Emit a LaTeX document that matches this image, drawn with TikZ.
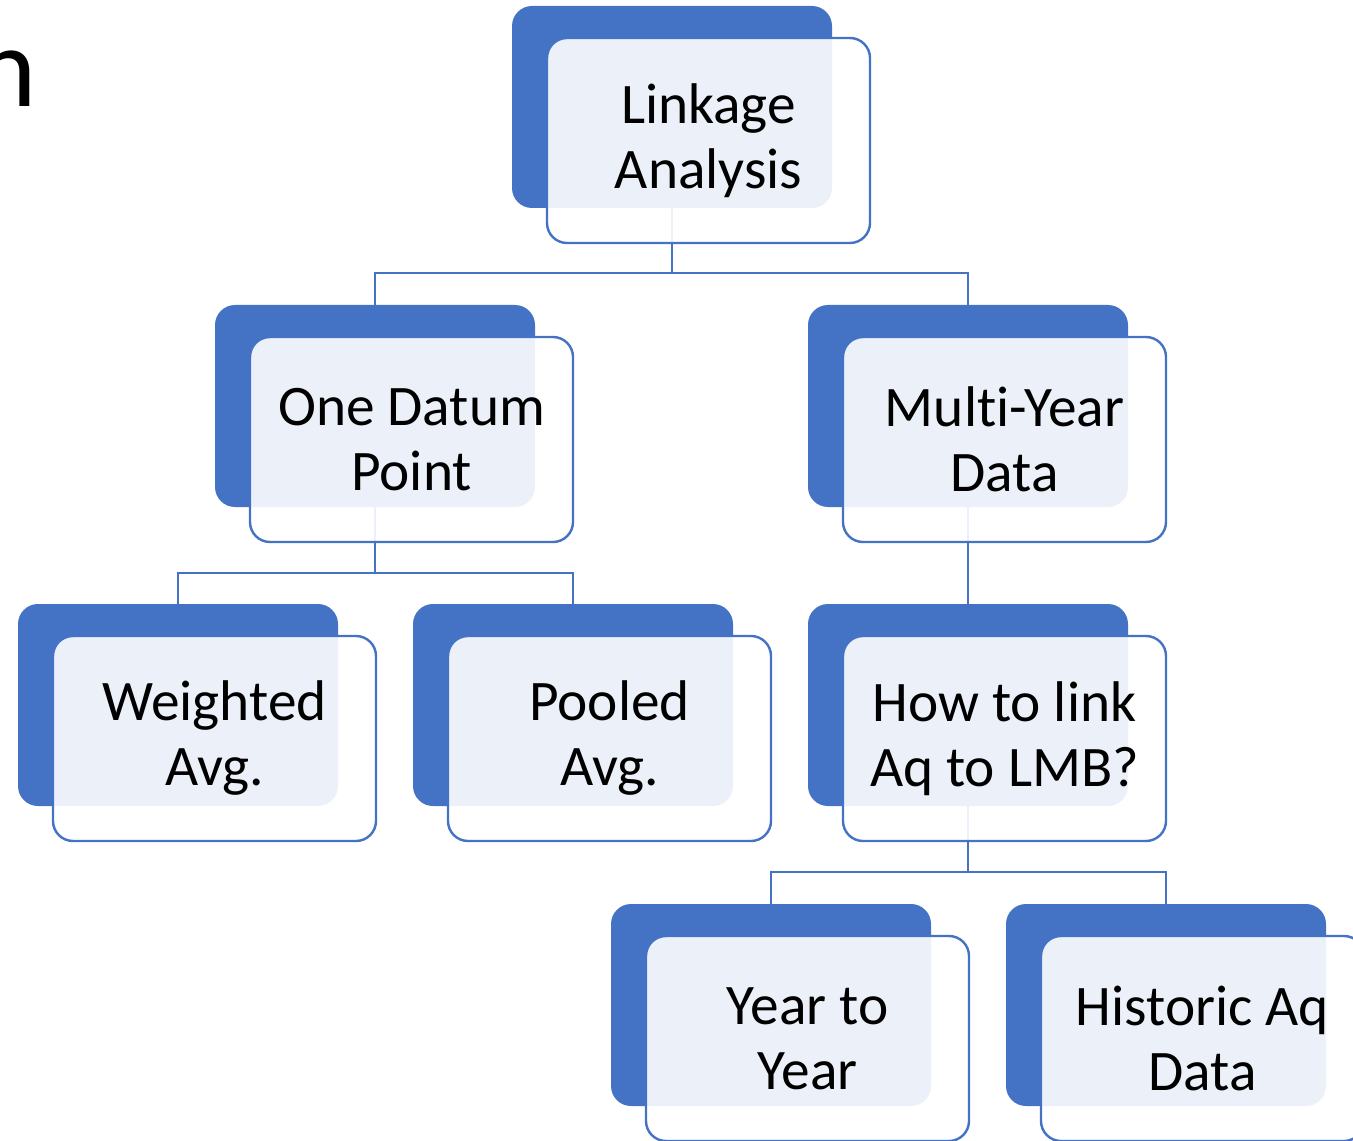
\documentclass[tikz,border=0pt]{standalone}
\usepackage{fontspec}
\setmainfont{Carlito}[Ligatures=NoCommon]
\usepackage{tikz}
\usetikzlibrary{positioning}
\definecolor{accent}{HTML}{4472C4}

\begin{document}
\begin{tikzpicture}[x=0.75pt,y=-0.75pt]
	\tikzstyle{back}
	  =[fill=accent, rounded corners=15pt, minimum width=240pt,
	  minimum height=151.5pt, inner sep=0pt]
	\tikzstyle{item}
	  =[draw=accent, line width=1.8pt, fill=white, fill opacity=0.9,
	  text opacity=1, rounded corners=15pt, minimum width=242.25pt,
	  minimum height=153.75pt, inner sep=0pt, align=center,
	  font=\fontsize{43}{48.75}\selectfont]
	\tikzstyle{link}
	  =[draw=accent, line width=1.8pt]

	\clip (0,0) rectangle (1353,1141);

	% title left over at the edge
	\node[anchor=base east, inner sep=0pt,
	  font=\fontsize{86}{86}\selectfont] (title) at (37,107) {n};

	% dark boxes
	\node[back] (Ab) at (672,107) {};
	\node[back] (Bb) at (375,406) {};
	\node[back] (Cb) at (968,406) {};
	\node[back] (Db) at (178,705) {};
	\node[back] (Eb) at (573,705) {};
	\node[back] (Fb) at (968,705) {};
	\node[back] (Gb) at (771,1005) {};
	\node[back] (Hb) at (1166,1005) {};

	% connectors
	\draw[link] (Ab.south) -- ++(0,65) coordinate (Aj);
	\draw[link] (Aj) -| (Bb.north);
	\draw[link] (Aj) -| (Cb.north);
	\draw[link] (Bb.south) -- ++(0,66) coordinate (Bj);
	\draw[link] (Bj) -| (Db.north);
	\draw[link] (Bj) -| (Eb.north);
	\draw[link] (Cb.south) -- (Fb.north);
	\draw[link] (Fb.south) -- ++(0,66) coordinate (Fj);
	\draw[link] (Fj) -| (Gb.north);
	\draw[link] (Fj) -| (Hb.north);

	% light boxes
	\node[item] (A)
	  at ([shift={(36.5,33.5)}]Ab.center) {Linkage\\Analysis};
	\node[item] (B)
	  at ([shift={(36.5,33.5)}]Bb.center) {One Datum\\Point};
	\node[item] (C)
	  at ([shift={(36.5,33.5)}]Cb.center) {Multi-Year\\Data};
	\node[item] (D)
	  at ([shift={(36.5,33.5)}]Db.center) {Weighted\\Avg.};
	\node[item] (E)
	  at ([shift={(36.5,33.5)}]Eb.center) {Pooled\\Avg.};
	\node[item] (F)
	  at ([shift={(36.5,33.5)}]Fb.center) {How to link\\Aq to LMB?};
	\node[item] (G)
	  at ([shift={(36.5,33.5)}]Gb.center) {Year to\\Year};
	\node[item] (H)
	  at ([shift={(36.5,33.5)}]Hb.center) {Historic Aq\\Data};
\end{tikzpicture}
\end{document}
